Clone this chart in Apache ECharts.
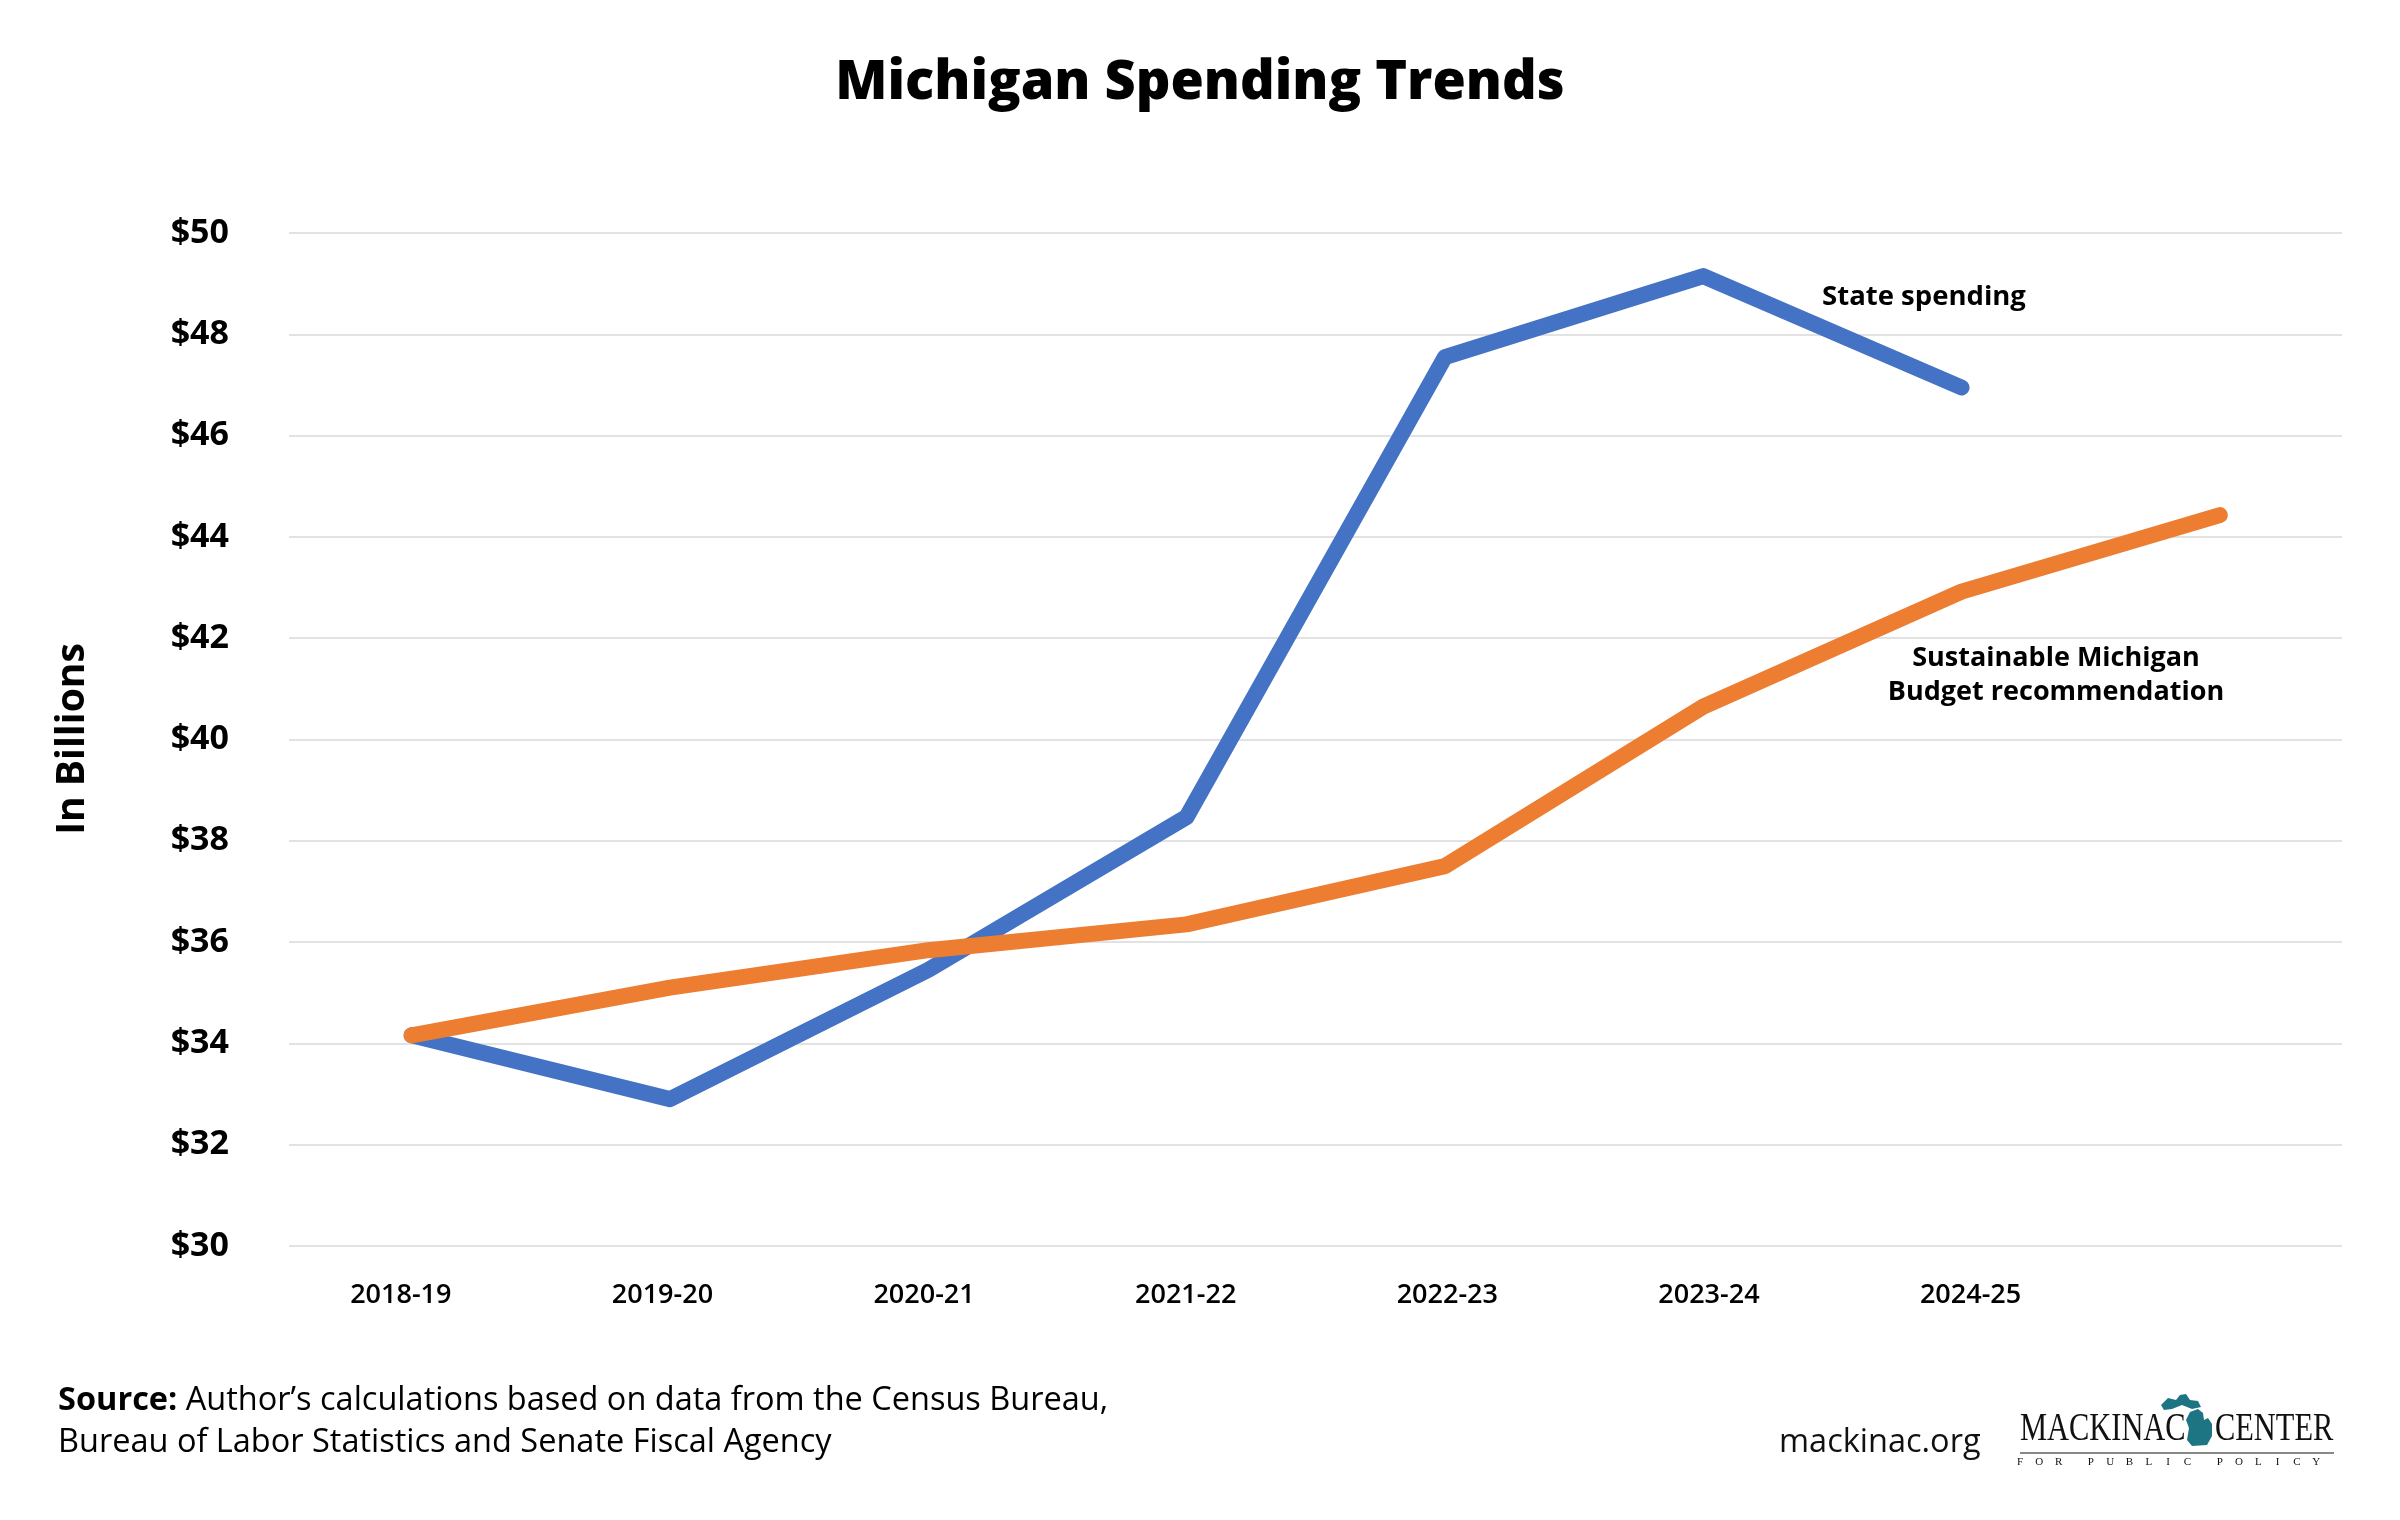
<!DOCTYPE html>
<html><head><meta charset="utf-8">
<script src="https://cdn.jsdelivr.net/npm/echarts@6/dist/echarts.min.js"></script>
<style>html,body{margin:0;padding:0;background:#fff}#c{width:2400px;height:1520px}</style>
</head><body><div id="c"></div>
<script>
var categories = ['2018-19','2019-20','2020-21','2021-22','2022-23','2023-24','2024-25',''];
var stateSpending = [34.16, 32.9, 35.45, 38.47, 47.55, 49.15, 46.95, null];
var sustainableBudget = [34.16, 35.1, 35.84, 36.35, 37.5, 40.65, 42.92, 44.43];
var yMin = 30, yMax = 50, yStep = 2;
var logoSub = ['F','O','R',' ','P','U','B','L','I','C',' ','P','O','L','I','C','Y'];

var chart = echarts.init(document.getElementById('c'));
var F = '"Open Sans", sans-serif';
var TOP = 233, BOTTOM = 274;

var graphics = [
  {type: 'text', left: 'center', top: 57, style: {text: 'Michigan Spending Trends', font: '800 54px ' + F, fill: '#000'}},
  {type: 'text', x: 73, y: 739, rotation: Math.PI/2, style: {text: 'In Billions', font: 'bold 39px ' + F, fill: '#000', textAlign: 'center', textVerticalAlign: 'middle'}},
  {type: 'text', x: 1924, y: 297, style: {text: 'State spending', font: 'bold 27.5px ' + F, fill: '#000', textAlign: 'center', textVerticalAlign: 'middle'}},
  {type: 'text', x: 2056, y: 675, style: {text: 'Sustainable Michigan\nBudget recommendation', font: 'bold 27px ' + F, lineHeight: 34, fill: '#000', textAlign: 'center', textVerticalAlign: 'middle'}},
  {type: 'text', x: 58, y: 1401, style: {rich: {b: {font: 'bold 32.5px ' + F, fill: '#000'}, r: {font: '32.5px ' + F, fill: '#000'}}, text: '{b|Source:}{r| Author\u2019s calculations based on data from the Census Bureau,}', textVerticalAlign: 'middle'}},
  {type: 'text', x: 58, y: 1443, style: {text: 'Bureau of Labor Statistics and Senate Fiscal Agency', font: '32.5px ' + F, fill: '#000', textVerticalAlign: 'middle'}},
  {type: 'text', x: 1779, y: 1443, style: {text: 'mackinac.org', font: '32.5px ' + F, fill: '#111', textVerticalAlign: 'middle'}},
  {type: 'text', x: 2020, y: 1449, scaleX: 0.78, style: {text: 'MACKINAC', font: '39px "Liberation Serif", serif', fill: '#111', textVerticalAlign: 'bottom'}},
  {type: 'text', x: 2215, y: 1449, scaleX: 0.78, style: {text: 'CENTER', font: '39px "Liberation Serif", serif', fill: '#111', textVerticalAlign: 'bottom'}},
  {type: 'rect', shape: {x: 2020, y: 1452, width: 314, height: 2}, style: {fill: '#888'}},
  {type: 'polygon', shape: {points: [[2161,1405],[2168,1398],[2176,1400],[2180,1395],[2186,1394],[2190,1400],[2198,1401],[2201,1407],[2192,1409],[2182,1405],[2172,1409],[2164,1410]]}, style: {fill: '#1d7584'}},
  {type: 'polygon', shape: {points: [[2190,1412],[2198,1409],[2203,1413],[2204,1420],[2208,1418],[2212,1424],[2212,1436],[2207,1445],[2192,1446],[2187,1440],[2189,1428],[2186,1420]]}, style: {fill: '#1d7584'}}
];
var lx = 2020;
logoSub.forEach(function(ch){
  if (ch === ' ') { lx += 13; return; }
  graphics.push({type: 'text', x: lx, y: 1462, style: {text: ch, font: '11px "Liberation Serif", serif', fill: '#111', textAlign: 'center', textVerticalAlign: 'middle'}});
  lx += 19.3;
});

chart.setOption({
  backgroundColor: '#fff',
  animation: false,
  grid: [
    {left: 289, right: 58, top: TOP, bottom: BOTTOM},
    {left: 282.5, right: 51, top: TOP, bottom: BOTTOM},
    {left: 270, right: 37, top: TOP, bottom: BOTTOM}
  ],
  xAxis: [
    {gridIndex: 0, type: 'category', data: categories, show: false},
    {gridIndex: 1, type: 'category', data: categories, show: false},
    {gridIndex: 2, type: 'category', data: categories, boundaryGap: true,
     axisLine: {show: false}, axisTick: {show: false}, splitLine: {show: false},
     axisLabel: {fontFamily: F, fontSize: 27, fontWeight: 600, color: '#000', margin: 36, interval: 0}}
  ],
  yAxis: [
    {gridIndex: 0, type: 'value', min: yMin, max: yMax, interval: yStep,
     axisLine: {show: false}, axisTick: {show: false},
     splitLine: {lineStyle: {color: '#d9d9d9', width: 1.5}},
     axisLabel: {fontFamily: F, fontSize: 34, fontWeight: 'bold', color: '#000', margin: 60,
       formatter: function(v){return '$' + v;}}},
    {gridIndex: 1, type: 'value', min: yMin, max: yMax, interval: yStep, show: false, splitLine: {show: false}},
    {gridIndex: 2, type: 'value', min: yMin, max: yMax, interval: yStep, show: false, splitLine: {show: false}}
  ],
  series: [
    {type: 'line', name: 'State spending', xAxisIndex: 1, yAxisIndex: 1, data: stateSpending, showSymbol: false, symbol: 'none',
     lineStyle: {color: '#4472C4', width: 16, cap: 'round', join: 'round'}, z: 2},
    {type: 'line', name: 'Sustainable Michigan Budget recommendation', xAxisIndex: 1, yAxisIndex: 1, data: sustainableBudget, showSymbol: false, symbol: 'none',
     lineStyle: {color: '#ED7D31', width: 16, cap: 'round', join: 'round'}, z: 3}
  ],
  graphic: graphics
});
</script></body></html>
